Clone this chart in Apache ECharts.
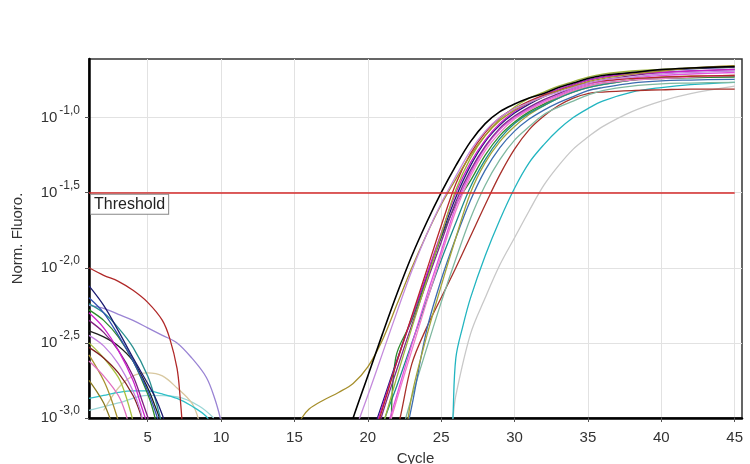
<!DOCTYPE html>
<html>
<head>
<meta charset="utf-8">
<title>Amplification plot</title>
<script src="https://cdn.jsdelivr.net/npm/echarts@6/dist/echarts.min.js"></script>
<style>
  html, body { margin: 0; padding: 0; background: #fff; }
  #chart { width: 750px; height: 464px; }
</style>
</head>
<body>
<div id="chart"></div>
<script>
// tick labels
const cycleTicks = [5, 10, 15, 20, 25, 30, 35, 40, 45];
const logTicks = [-3, -2.5, -2, -1.5, -1];
const thresholdLog = -1.5;

// amplification curves: [cycle, log10(norm. fluoro)]
const ampBlack = [[18,-3.3],[19,-3.0],[20,-2.72],[21,-2.44],[22,-2.17],[23,-1.92],[24,-1.7],[25,-1.5],[26,-1.32],[27,-1.16],[28,-1.04],[29,-0.96],[30,-0.91],[31,-0.87],[32,-0.84],[33,-0.8],[34,-0.77],[35,-0.74],[36,-0.72],[38,-0.7],[40,-0.68],[42,-0.67],[45,-0.66]];
const ampViolet = [[18,-3.4],[19,-3.12],[20,-2.85],[21,-2.57],[22,-2.29],[23,-2.02],[24,-1.78],[25,-1.57],[26,-1.39],[27,-1.22],[28,-1.09],[29,-1.0],[30,-0.94],[31,-0.9],[32,-0.86],[33,-0.83],[34,-0.8],[35,-0.77],[36,-0.75],[38,-0.73],[40,-0.71],[42,-0.7],[45,-0.69]];
const ampOlive = [[15,-3.1],[15.5,-3.0],[16,-2.94],[17,-2.88],[18,-2.83],[19,-2.77],[20,-2.66],[21,-2.48],[22,-2.24],[23,-2.0],[24,-1.78],[25,-1.58],[26,-1.41],[27,-1.25],[28,-1.12],[29,-1.02],[30,-0.95],[31,-0.9],[32,-0.86],[33,-0.82],[34,-0.79],[35,-0.76],[36,-0.74],[38,-0.71],[40,-0.69],[42,-0.67],[45,-0.655]];
const ampRed = [[20,-3.25],[21,-2.94],[22,-2.62],[23,-2.32],[24,-2.02],[25,-1.72],[26,-1.44],[27,-1.24],[28,-1.1],[29,-1.0],[30,-0.94],[31,-0.89],[32,-0.85],[33,-0.82],[34,-0.79],[35,-0.77],[36,-0.755],[38,-0.74],[40,-0.73],[42,-0.725],[45,-0.72]];
const ampYellowGreen = [[20,-3.4],[21,-3.06],[22,-2.72],[23,-2.4],[24,-2.09],[25,-1.78],[26,-1.48],[27,-1.27],[28,-1.12],[29,-1.01],[30,-0.93],[31,-0.87],[32,-0.83],[33,-0.79],[34,-0.76],[35,-0.73],[36,-0.71],[38,-0.69],[40,-0.68],[42,-0.67],[45,-0.66]];
const ampMagenta = [[20,-3.22],[21,-2.92],[22,-2.62],[23,-2.33],[24,-2.05],[25,-1.77],[26,-1.5],[27,-1.3],[28,-1.15],[29,-1.04],[30,-0.96],[31,-0.9],[32,-0.85],[33,-0.81],[34,-0.78],[35,-0.75],[36,-0.73],[38,-0.71],[40,-0.7],[42,-0.69],[45,-0.68]];
const ampNavy = [[20,-3.19],[21,-2.9],[22,-2.61],[23,-2.33],[24,-2.06],[25,-1.79],[26,-1.53],[27,-1.32],[28,-1.16],[29,-1.05],[30,-0.97],[31,-0.91],[32,-0.86],[33,-0.82],[34,-0.78],[35,-0.75],[36,-0.73],[38,-0.7],[40,-0.685],[42,-0.675],[45,-0.665]];
const ampPurple = [[20,-3.3],[21,-2.97],[22,-2.67],[23,-2.38],[24,-2.1],[25,-1.83],[26,-1.56],[27,-1.35],[28,-1.19],[29,-1.07],[30,-0.99],[31,-0.93],[32,-0.88],[33,-0.84],[34,-0.8],[35,-0.77],[36,-0.75],[38,-0.72],[40,-0.7],[42,-0.69],[45,-0.68]];
const ampMagenta2 = [[20,-3.5],[21,-3.17],[22,-2.84],[23,-2.51],[24,-2.19],[25,-1.89],[26,-1.59],[27,-1.37],[28,-1.2],[29,-1.08],[30,-1.0],[31,-0.94],[32,-0.89],[33,-0.85],[34,-0.81],[35,-0.78],[36,-0.76],[38,-0.735],[40,-0.72],[42,-0.71],[45,-0.7]];
const ampPink = [[20,-3.52],[21,-3.2],[22,-2.87],[23,-2.55],[24,-2.23],[25,-1.92],[26,-1.62],[27,-1.39],[28,-1.22],[29,-1.1],[30,-1.01],[31,-0.95],[32,-0.9],[33,-0.86],[34,-0.82],[35,-0.79],[36,-0.77],[38,-0.75],[40,-0.74],[42,-0.73],[45,-0.72]];
const ampGreen = [[21.6,-3.1],[21.9,-2.6],[23,-2.35],[24,-2.08],[25,-1.8],[26,-1.58],[27,-1.42],[28,-1.25],[29,-1.12],[30,-1.03],[31,-0.96],[32,-0.91],[33,-0.86],[34,-0.82],[35,-0.79],[36,-0.77],[38,-0.75],[40,-0.74],[42,-0.735],[45,-0.73]];
const ampTeal = [[20,-3.4],[21,-3.05],[22,-2.78],[23,-2.5],[24,-2.22],[25,-1.95],[26,-1.7],[27,-1.46],[28,-1.28],[29,-1.14],[30,-1.04],[31,-0.97],[32,-0.92],[33,-0.87],[34,-0.83],[35,-0.8],[36,-0.78],[38,-0.75],[40,-0.735],[42,-0.73],[45,-0.725]];
const ampOlive2 = [[22.5,-3.2],[23,-2.85],[24,-2.46],[25,-2.12],[26,-1.8],[27,-1.5],[28,-1.3],[29,-1.16],[30,-1.06],[31,-0.98],[32,-0.92],[33,-0.87],[34,-0.83],[35,-0.8],[36,-0.78],[38,-0.75],[40,-0.73],[42,-0.725],[45,-0.72]];
const ampSteel = [[22.6,-3.1],[23,-2.92],[24,-2.42],[25,-2.08],[26,-1.8],[27,-1.55],[28,-1.35],[29,-1.2],[30,-1.09],[31,-1.01],[32,-0.95],[33,-0.9],[34,-0.86],[35,-0.82],[36,-0.8],[38,-0.77],[40,-0.755],[42,-0.75],[45,-0.745]];
const ampSage = [[22.3,-3.1],[23,-2.86],[24,-2.54],[25,-2.23],[26,-1.94],[27,-1.67],[28,-1.45],[29,-1.28],[30,-1.15],[31,-1.06],[32,-0.98],[33,-0.93],[34,-0.89],[35,-0.85],[36,-0.82],[38,-0.79],[40,-0.775],[42,-0.77],[45,-0.765]];
const ampBrown = [[21.8,-3.15],[22.2,-3.0],[23,-2.64],[24,-2.4],[25,-2.2],[26,-2.0],[27,-1.79],[28,-1.58],[29,-1.38],[30,-1.21],[31,-1.08],[32,-0.99],[33,-0.92],[34,-0.87],[35,-0.84],[36,-0.83],[38,-0.82],[40,-0.815],[42,-0.81],[45,-0.81]];
const ampCyan = [[25,-4.6],[25.8,-3.0],[26,-2.6],[26.5,-2.38],[27,-2.2],[28,-1.92],[29,-1.68],[30,-1.47],[31,-1.3],[32,-1.18],[33,-1.08],[34,-1.0],[35,-0.94],[36,-0.89],[38,-0.83],[40,-0.8],[42,-0.78],[45,-0.765]];
const ampGray = [[25.5,-3.2],[25.8,-3.0],[26,-2.85],[27,-2.44],[28,-2.2],[29,-1.98],[30,-1.8],[31,-1.62],[32,-1.45],[33,-1.32],[34,-1.21],[35,-1.13],[36,-1.06],[38,-0.96],[40,-0.89],[42,-0.84],[45,-0.79]];

// early baseline curves (cycles 1-10)
const baseRed = [[1,-2.0],[2,-2.05],[3,-2.09],[4,-2.15],[5,-2.23],[6,-2.35],[6.5,-2.47],[7,-2.67],[7.2,-2.85],[7.4,-3.1]];
const baseLavender = [[1,-2.25],[2,-2.27],[3,-2.31],[4,-2.35],[5,-2.4],[6,-2.45],[7,-2.5],[8,-2.6],[9,-2.73],[9.6,-2.88],[10,-3.02]];
const baseCyan = [[1,-2.87],[2,-2.85],[3,-2.83],[4,-2.82],[5,-2.82],[6,-2.84],[7,-2.87],[8,-2.92],[9,-2.99],[9.3,-3.05]];
const baseNavy = [[1,-2.12],[2,-2.25],[3,-2.42],[4,-2.6],[5,-2.77],[5.5,-2.86],[6,-2.98],[6.2,-3.05]];
const baseTeal = [[1,-2.24],[2,-2.3],[3,-2.4],[4,-2.53],[5,-2.72],[5.5,-2.87],[6,-3.05]];
const baseMagenta = [[1,-2.3],[2,-2.4],[3,-2.55],[4,-2.75],[4.5,-2.9],[5,-3.05]];
const baseBlack = [[1,-2.42],[2,-2.46],[3,-2.52],[4,-2.62],[5,-2.8],[5.5,-2.92],[6,-3.05]];
const baseOlive = [[1,-2.58],[2,-2.75],[2.5,-2.87],[3,-3.02]];
const baseYellowGreen = [[1,-2.5],[2,-2.6],[3,-2.73],[3.5,-2.85],[4,-3.02]];
const basePurple = [[1,-2.35],[2,-2.43],[3,-2.55],[4,-2.72],[4.6,-2.88],[5.2,-3.05]];
const basePink = [[1,-2.62],[2,-2.72],[3,-2.85],[3.5,-2.97],[3.7,-3.05]];
const baseViolet = [[1,-2.45],[2,-2.52],[3,-2.64],[4,-2.82],[4.5,-2.95],[4.7,-3.05]];
const baseBrown = [[1,-2.53],[2,-2.6],[3,-2.7],[4,-2.85],[4.5,-2.97],[4.7,-3.05]];
const baseTan = [[2,-2.95],[3,-2.8],[4,-2.72],[5,-2.7],[6,-2.72],[7,-2.8],[8,-2.9],[8.5,-3.02]];
const basePaleCyan = [[1,-2.95],[3,-2.9],[5,-2.85],[7,-2.86],[8.5,-2.92],[9.5,-3.0]];
const baseGreen = [[1,-2.28],[2,-2.35],[3,-2.46],[4,-2.62],[5,-2.84],[5.4,-2.96],[5.6,-3.05]];
const baseDarkOlive = [[1,-2.75],[1.5,-2.82],[2,-2.9],[2.5,-3.02]];
const baseBlue = [[1,-2.2],[2,-2.3],[3,-2.45],[4,-2.62],[5,-2.82],[5.6,-2.98],[5.8,-3.05]];

const curves = [
  [ampGray, '#c8c8c8'], [ampCyan, '#22b5c0'], [ampBrown, '#a8302a'], [ampSage, '#7fb8a0'],
  [ampSteel, '#3c6cb0'], [ampOlive2, '#a5a53a'], [ampTeal, '#1f8c8c'], [ampGreen, '#2e8b2e'],
  [ampPink, '#f07cc8'], [ampMagenta2, '#e052e0'], [ampPurple, '#7d2a8a'], [ampNavy, '#1c1c78'],
  [ampMagenta, '#c81ec8'], [ampYellowGreen, '#9db43c'], [ampRed, '#b8282a'], [ampOlive, '#a68f2c'],
  [ampViolet, '#c48adc'], [ampBlack, '#000000'],
  [basePaleCyan, '#9ad6d6'], [baseTan, '#d8c8a0'], [baseCyan, '#30c0c8'], [baseLavender, '#9a84d4'],
  [baseDarkOlive, '#8a7a20'], [baseOlive, '#a89030'], [baseYellowGreen, '#a8c040'], [basePink, '#e070c0'],
  [baseBrown, '#802020'], [baseViolet, '#c080e0'], [baseBlack, '#202020'], [basePurple, '#802080'],
  [baseMagenta, '#cc22cc'], [baseGreen, '#2a8a2a'], [baseTeal, '#2a9090'], [baseBlue, '#3050b0'],
  [baseNavy, '#1a1a70'], [baseRed, '#b02828']
];

const font = '"Liberation Sans", Arial, sans-serif';

const chart = echarts.init(document.getElementById('chart'));

const series = curves.map(([data, color]) => ({
  type: 'line',
  data: data,
  showSymbol: false,
  smooth: 0.35,
  silent: true,
  clip: true,
  lineStyle: { color: color, width: color === '#000000' ? 1.6 : 1.3 },
}));

// threshold line with its boxed label
series.push({
  type: 'line',
  data: [],
  silent: true,
  markLine: {
    symbol: 'none',
    silent: true,
    animation: false,
    lineStyle: { color: '#d42a2a', width: 1.6, type: 'solid' },
    label: {
      show: true,
      position: 'insideStartBottom',
      formatter: 'Threshold',
      distance: [2, 2],
      color: '#222',
      fontFamily: font,
      fontSize: 16,
      backgroundColor: '#fff',
      borderColor: '#888',
      borderWidth: 1,
      padding: [2, 3, 1, 3],
    },
    data: [[{ coord: [1, thresholdLog] }, { coord: [45, thresholdLog] }]],
  },
});

chart.setOption({
  animation: false,
  backgroundColor: '#fff',
  grid: {
    left: 89, right: 8, top: 59, bottom: 46,
    outerBoundsMode: 'none',
    containLabel: false,
    show: true, borderColor: '#333', borderWidth: 1.5,
  },
  xAxis: {
    type: 'value',
    min: 1,
    max: 45.5,
    name: 'Cycle',
    nameLocation: 'middle',
    nameGap: 33,
    nameTextStyle: { color: '#333', fontFamily: font, fontSize: 15 },
    axisLine: { lineStyle: { color: '#000', width: 2.5 } },
    axisTick: { length: 4, customValues: cycleTicks, lineStyle: { color: '#555' } },
    axisLabel: { customValues: cycleTicks, margin: 12, color: '#333', fontFamily: font, fontSize: 15 },
    splitLine: { show: true, lineStyle: { color: '#e2e2e2', width: 1 } },
  },
  yAxis: {
    type: 'value',
    min: -3,
    max: -0.61,
    name: 'Norm. Fluoro.',
    nameLocation: 'middle',
    nameGap: 64,
    nameTextStyle: { color: '#333', fontFamily: font, fontSize: 15 },
    axisLine: { lineStyle: { color: '#000', width: 2.5 } },
    axisTick: { length: 4, customValues: logTicks, lineStyle: { color: '#555' } },
    axisLabel: {
      customValues: logTicks,
      margin: 9,
      formatter: v => '{b|10}{s|' + v.toFixed(1).replace('.', ',') + '}',
      rich: {
        b: { fontFamily: font, fontSize: 15, color: '#333' },
        s: { fontFamily: font, fontSize: 12, color: '#333', padding: [0, 0, 14, 2] },
      },
    },
    splitLine: { show: true, lineStyle: { color: '#e2e2e2', width: 1 } },
  },
  series: series,
});
</script>
</body>
</html>
